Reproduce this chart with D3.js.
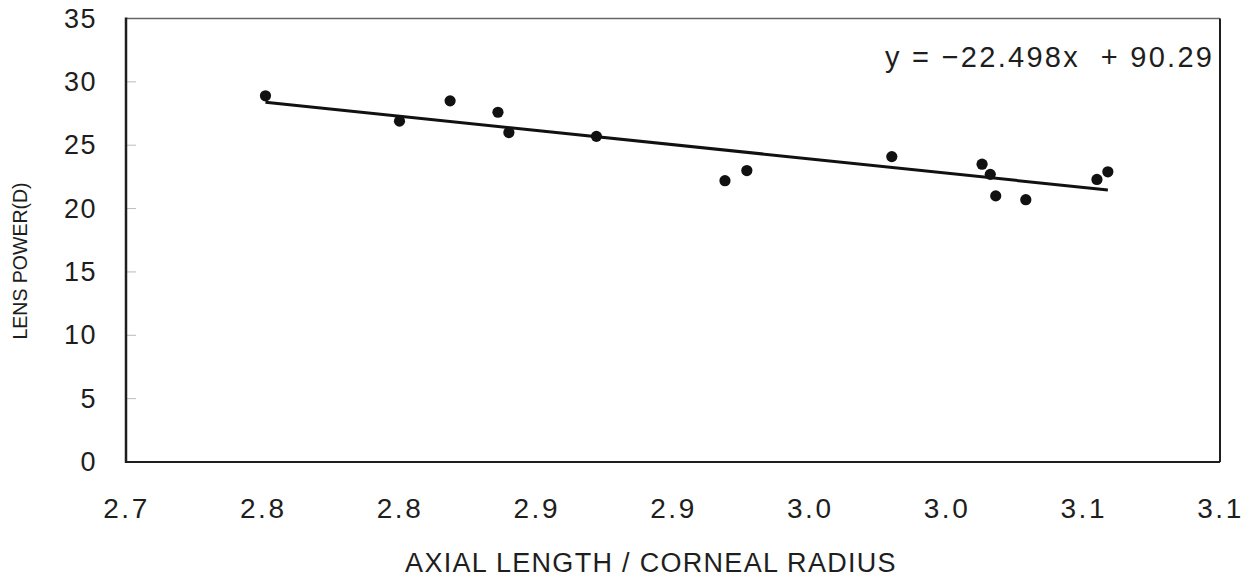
<!DOCTYPE html>
<html>
<head>
<meta charset="utf-8">
<script src="https://cdn.jsdelivr.net/npm/d3@7"></script>
<style>
  html, body { margin: 0; padding: 0; background: #fff; }
  svg { display: block; font-family: "Liberation Sans", Arial, sans-serif; }
</style>
</head>
<body>
<svg id="chart" width="1250" height="581"></svg>
<script>
// ---- data ----
const ratio = [2.751, 2.800, 2.8185, 2.836, 2.840, 2.872, 2.919, 2.927, 2.980, 3.013, 3.016, 3.018, 3.029, 3.055, 3.059];
const lensPower = [28.9, 26.9, 28.5, 27.6, 26.0, 25.7, 22.2, 23.0, 24.1, 23.5, 22.7, 21.0, 20.7, 22.3, 22.9];
const slope = -22.498;
const intercept = 90.29;
const xTickValues = [2.70, 2.75, 2.80, 2.85, 2.90, 2.95, 3.00, 3.05, 3.10];
const xTickLabels = ["2.7", "2.8", "2.8", "2.9", "2.9", "3.0", "3.0", "3.1", "3.1"];
const yTickValues = [0, 5, 10, 15, 20, 25, 30, 35];
const equationText = "y = \u221222.498x  + 90.29";
const xTitle = "AXIAL LENGTH / CORNEAL RADIUS";
const yTitle = "LENS POWER(D)";

// ---- layout ----
const mLeft = 126, mRight = 1220, mTop = 18.5, mBottom = 462;
const svg = d3.select("#chart");
const ink = "#1e1e1e";

const x = d3.scaleLinear().domain([2.70, 3.10]).range([mLeft, mRight]);
const y = d3.scaleLinear().domain([0, 35]).range([mBottom, mTop]);

// y axis (labels + faint inner ticks)
const yAxis = svg.append("g")
  .attr("transform", `translate(${mLeft},0)`)
  .call(d3.axisLeft(y).tickValues(yTickValues).tickSize(0).tickPadding(29));
yAxis.select(".domain").remove();
yAxis.selectAll("text")
  .attr("font-size", 27).attr("letter-spacing", 1.5)
  .attr("fill", ink).attr("font-family", "Liberation Sans, Arial, sans-serif");

svg.append("g").selectAll("line")
  .data(yTickValues.filter(v => v > 0 && v < 35))
  .join("line")
  .attr("x1", mLeft).attr("x2", mLeft + 10)
  .attr("y1", d => y(d)).attr("y2", d => y(d))
  .attr("stroke", "#bbb").attr("stroke-width", 1);

// x axis labels
const xAxis = svg.append("g")
  .attr("transform", `translate(0,${mBottom})`)
  .call(d3.axisBottom(x).tickValues(xTickValues)
    .tickFormat((d, i) => xTickLabels[i]).tickSize(0).tickPadding(36));
xAxis.select(".domain").remove();
xAxis.selectAll("text")
  .attr("font-size", 28).attr("letter-spacing", 2.5)
  .attr("fill", ink).attr("font-family", "Liberation Sans, Arial, sans-serif");

// frame
svg.append("line").attr("x1", mLeft).attr("x2", mRight).attr("y1", mTop).attr("y2", mTop)
  .attr("stroke", "#666").attr("stroke-width", 1.5);
svg.append("line").attr("x1", mRight).attr("x2", mRight).attr("y1", mTop).attr("y2", mBottom)
  .attr("stroke", ink).attr("stroke-width", 2);
svg.append("line").attr("x1", mLeft).attr("x2", mRight).attr("y1", mBottom).attr("y2", mBottom)
  .attr("stroke", ink).attr("stroke-width", 2);
svg.append("line").attr("x1", mLeft).attr("x2", mLeft).attr("y1", mTop - 1).attr("y2", mBottom + 1)
  .attr("stroke", ink).attr("stroke-width", 2.5);

// regression line
const xMin = d3.min(ratio), xMax = d3.max(ratio);
svg.append("line")
  .attr("x1", x(xMin)).attr("y1", y(slope * xMin + intercept))
  .attr("x2", x(xMax)).attr("y2", y(slope * xMax + intercept))
  .attr("stroke", "#111").attr("stroke-width", 3);

// points
svg.append("g").selectAll("circle")
  .data(ratio.map((r, i) => ({ r, p: lensPower[i] })))
  .join("circle")
  .attr("cx", d => x(d.r)).attr("cy", d => y(d.p))
  .attr("r", 5.6).attr("fill", "#111");

// equation
svg.append("text")
  .attr("x", 885).attr("y", 67)
  .attr("font-size", 29).attr("fill", ink)
  .attr("textLength", 327).attr("lengthAdjust", "spacing")
  .style("white-space", "pre")
  .text(equationText);

// axis titles
svg.append("text")
  .attr("x", 651).attr("y", 572)
  .attr("text-anchor", "middle")
  .attr("font-size", 27).attr("letter-spacing", 1.3).attr("fill", ink)
  .text(xTitle);

svg.append("text")
  .attr("transform", "translate(27,261) rotate(-90)")
  .attr("text-anchor", "middle")
  .attr("font-size", 19.5).attr("fill", ink)
  .text(yTitle);
</script>
</body>
</html>
